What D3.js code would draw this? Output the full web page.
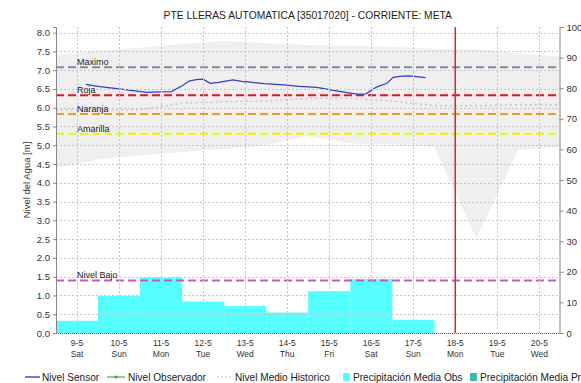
<!DOCTYPE html>
<html>
<head>
<meta charset="utf-8">
<script src="https://cdn.jsdelivr.net/npm/d3@7"></script>
<style>
  body { margin: 0; background: #fff; }
  svg { display: block; font-family: "Liberation Sans", Arial, sans-serif; }
</style>
</head>
<body>
<svg id="chart" width="581" height="383"></svg>
<script>
// ---- data ----
const chartTitle = "PTE LLERAS AUTOMATICA [35017020] - CORRIENTE: META";
const levelAxisTitle = "Nivel del Agua [m]";

const dayTicks = ["2020-05-09", "2020-05-10", "2020-05-11", "2020-05-12", "2020-05-13", "2020-05-14",
                  "2020-05-15", "2020-05-16", "2020-05-17", "2020-05-18", "2020-05-19", "2020-05-20"];
const levelTicks = [0, 0.5, 1, 1.5, 2, 2.5, 3, 3.5, 4, 4.5, 5, 5.5, 6, 6.5, 7, 7.5, 8];
const rainTicks = [0, 10, 20, 30, 40, 50, 60, 70, 80, 90, 100];

// sensor water level (m)
const sensorTimes = ["2020-05-09 05:00", "2020-05-09 13:00", "2020-05-10 00:00", "2020-05-10 09:00",
  "2020-05-10 16:00", "2020-05-10 23:00", "2020-05-11 06:00", "2020-05-11 12:30", "2020-05-11 16:00",
  "2020-05-11 20:00", "2020-05-12 00:00", "2020-05-12 04:00", "2020-05-12 08:00", "2020-05-12 13:00",
  "2020-05-12 17:00", "2020-05-12 22:00", "2020-05-13 03:00", "2020-05-13 11:00", "2020-05-13 22:00",
  "2020-05-14 07:00", "2020-05-14 17:00", "2020-05-15 04:00", "2020-05-15 12:00", "2020-05-15 16:00",
  "2020-05-15 21:00", "2020-05-16 03:00", "2020-05-16 09:00", "2020-05-16 12:30", "2020-05-16 17:30",
  "2020-05-16 22:00", "2020-05-17 03:00", "2020-05-17 07:00"];
const sensorLevels = [6.62, 6.56, 6.50, 6.45, 6.41, 6.42, 6.43, 6.60, 6.71, 6.75, 6.76, 6.65, 6.67, 6.71,
  6.74, 6.70, 6.68, 6.64, 6.61, 6.57, 6.54, 6.45, 6.39, 6.36, 6.37, 6.55, 6.65, 6.81, 6.84, 6.85, 6.82, 6.80];

// historical statistics (m), one value per day
const histTimes = ["2020-05-08 12:00", "2020-05-09 12:00", "2020-05-10 12:00", "2020-05-11 12:00",
  "2020-05-12 12:00", "2020-05-13 12:00", "2020-05-14 12:00", "2020-05-15 12:00", "2020-05-16 12:00",
  "2020-05-17 12:00", "2020-05-18 12:00", "2020-05-19 12:00", "2020-05-20 12:00"];
const histMax  = [7.40, 7.52, 7.60, 7.70, 7.78, 7.72, 7.67, 7.65, 7.62, 7.57, 7.56, 7.45, 7.36];
const histMin  = [4.39, 4.62, 4.73, 4.82, 4.90, 5.00, 5.25, 5.05, 5.03, 4.96, 2.52, 4.88, 4.95];
const histMean = [5.95, 5.92, 5.95, 6.12, 6.16, 6.18, 6.25, 6.25, 6.18, 6.05, 6.05, 6.08, 6.08];

// observed mean daily precipitation (mm)
const rainDays = ["2020-05-09", "2020-05-10", "2020-05-11", "2020-05-12", "2020-05-13",
                  "2020-05-14", "2020-05-15", "2020-05-16", "2020-05-17"];
const rainObs = [4.0, 12.1, 18.2, 10.3, 8.8, 6.7, 13.7, 17.6, 4.3];

// alert thresholds (m)
const thresholdNames  = ["Maximo", "Roja", "Naranja", "Amarilla", "Nivel Bajo"];
const thresholdLevels = [7.08, 6.33, 5.83, 5.31, 1.40];
const thresholdColors = ["#8088a6", "#e8141c", "#f39a1e", "#f2f200", "#c855c8"];

const nowTime = "2020-05-18 00:00";
const xStart = "2020-05-08 12:00", xEnd = "2020-05-20 11:30";

const legendNames = ["Nivel Sensor", "Nivel Observador", "Nivel Medio Historico",
                     "Precipitación Media Obs", "Precipitación Media Pronosticada"];

// ---- scales ----
const parseT = d3.utcParse("%Y-%m-%d %H:%M");
const parseD = d3.utcParse("%Y-%m-%d");
const L = 56, R = 559.5, T = 27, B = 333;

const x = d3.scaleUtc().domain([parseT(xStart), parseT(xEnd)]).range([L, R]);
const yL = d3.scaleLinear().domain([0, 8.15]).range([B, T]);
const yR = d3.scaleLinear().domain([0, 100]).range([B, T]);

const svg = d3.select("#chart");
const defs = svg.append("defs");
defs.append("clipPath").attr("id", "plot").append("rect")
  .attr("x", L).attr("y", T).attr("width", R - L).attr("height", B - T);
const plot = svg.append("g").attr("clip-path", "url(#plot)");

// historical range band
const hist = histTimes.map((t, i) => ({ t: parseT(t), lo: histMin[i], hi: histMax[i], mean: histMean[i] }));
plot.append("path").datum(hist)
  .attr("fill", "#efefef")
  .attr("d", d3.area().x(d => x(d.t)).y0(d => yL(d.lo)).y1(d => yL(d.hi)));

// grid
const grid = svg.append("g").attr("stroke", "#c4c4c4").attr("stroke-width", 1).attr("stroke-dasharray", "2,2");
levelTicks.forEach(v => {
  grid.append("line").attr("x1", L).attr("x2", R).attr("y1", Math.round(yL(v)) + 0.5).attr("y2", Math.round(yL(v)) + 0.5);
});
dayTicks.forEach(d => {
  const px = Math.round(x(parseD(d))) + 0.5;
  grid.append("line").attr("x1", px).attr("x2", px).attr("y1", T).attr("y2", B);
});

// historical mean
plot.append("path").datum(hist)
  .attr("fill", "none").attr("stroke", "#c6c6c6").attr("stroke-width", 1.5).attr("stroke-dasharray", "2,3")
  .attr("d", d3.line().x(d => x(d.t)).y(d => yL(d.mean)));

// precipitation bars
const rain = rainDays.map((d, i) => ({ d: parseD(d), v: rainObs[i] }));
plot.selectAll("rect.rain").data(rain).join("rect").attr("class", "rain")
  .attr("x", d => x(d3.utcHour.offset(d.d, -12)))
  .attr("width", d => x(d3.utcHour.offset(d.d, 12)) - x(d3.utcHour.offset(d.d, -12)))
  .attr("y", d => yR(d.v))
  .attr("height", d => yR(0) - yR(d.v))
  .attr("fill", "#55ffff");

// thresholds
thresholdNames.forEach((name, i) => {
  const py = yL(thresholdLevels[i]);
  plot.append("line").attr("x1", L).attr("x2", R).attr("y1", py).attr("y2", py)
    .attr("stroke", thresholdColors[i]).attr("stroke-width", 2).attr("stroke-dasharray", "8,4");
  svg.append("text").attr("x", x(parseD(dayTicks[0]))).attr("y", py - 2)
    .attr("font-size", 9).attr("fill", "#222").text(name);
});

// sensor level
const sensor = sensorTimes.map((t, i) => ({ t: parseT(t), v: sensorLevels[i] }));
plot.append("path").datum(sensor)
  .attr("fill", "none").attr("stroke", "#3a3ac4").attr("stroke-width", 1.2)
  .attr("d", d3.line().x(d => x(d.t)).y(d => yL(d.v)));

// current time marker
const nx = Math.round(x(parseT(nowTime)));
svg.append("rect").attr("x", nx - 0.5).attr("y", T).attr("width", 1.5).attr("height", B - T)
  .attr("fill", "#d42a2a");

// bottom edge
svg.append("line").attr("x1", L).attr("x2", R).attr("y1", B + 0.5).attr("y2", B + 0.5)
  .attr("stroke", "#666").attr("stroke-dasharray", "1,1");

// left axis
const axL = svg.append("g").attr("transform", `translate(${L},0)`)
  .call(d3.axisLeft(yL).tickValues(levelTicks).tickFormat(d3.format(".1f")).tickSizeOuter(0).tickSize(3));
axL.select(".domain").attr("stroke", "#888");
axL.selectAll(".tick line").attr("stroke", "#888");
axL.selectAll("text").attr("font-size", 9.5).attr("fill", "#333");
axL.attr("font-family", null);

// right axis
const axR = svg.append("g").attr("transform", `translate(${R},0)`)
  .call(d3.axisRight(yR).tickValues(rainTicks).tickSizeOuter(0).tickSize(4));
axR.select(".domain").attr("stroke", "#888");
axR.selectAll(".tick line").attr("stroke", "#888");
axR.selectAll("text").attr("font-size", 9.5).attr("fill", "#333");
axR.attr("font-family", null);

// x labels: date and weekday
const fDate = d3.utcFormat("%-d-%-m"), fDay = d3.utcFormat("%a");
const xl = svg.append("g").attr("font-size", 8.5).attr("fill", "#333").attr("text-anchor", "middle");
dayTicks.forEach(d => {
  const t = parseD(d), px = x(t);
  xl.append("text").attr("x", px).attr("y", 346).text(fDate(t));
  xl.append("text").attr("x", px).attr("y", 357).text(fDay(t));
});

// titles
svg.append("text").attr("x", (L + R) / 2).attr("y", 19).attr("text-anchor", "middle")
  .attr("font-size", 10.3).attr("fill", "#222").text(chartTitle);
svg.append("text").attr("transform", `translate(30,${(T + B) / 2}) rotate(-90)`)
  .attr("text-anchor", "middle").attr("font-size", 9.5).attr("fill", "#333").text(levelAxisTitle);

// legend
const lg = svg.append("g").attr("font-size", 10.1).attr("fill", "#222");
const ly = 377;
lg.append("line").attr("x1", 25).attr("x2", 40).attr("y1", ly).attr("y2", ly).attr("stroke", "#4a4ad0").attr("stroke-width", 1.5);
lg.append("text").attr("x", 42).attr("y", ly + 4).text(legendNames[0]);
lg.append("line").attr("x1", 107).attr("x2", 125).attr("y1", ly).attr("y2", ly).attr("stroke", "#44b044").attr("stroke-width", 1.2);
lg.append("circle").attr("cx", 116).attr("cy", ly).attr("r", 1.6).attr("fill", "#44b044");
lg.append("text").attr("x", 128).attr("y", ly + 4).text(legendNames[1]);
lg.append("line").attr("x1", 217).attr("x2", 232).attr("y1", ly).attr("y2", ly).attr("stroke", "#bdbdbd").attr("stroke-dasharray", "2,2");
lg.append("text").attr("x", 235).attr("y", ly + 4).text(legendNames[2]);
lg.append("rect").attr("x", 343).attr("y", ly - 4).attr("width", 7).attr("height", 8).attr("fill", "#55ffff");
lg.append("text").attr("x", 353).attr("y", ly + 4).text(legendNames[3]);
lg.append("rect").attr("x", 470).attr("y", ly - 4).attr("width", 7).attr("height", 8).attr("fill", "#3cb8ac");
lg.append("text").attr("x", 480).attr("y", ly + 4).text(legendNames[4]);
</script>
</body>
</html>
